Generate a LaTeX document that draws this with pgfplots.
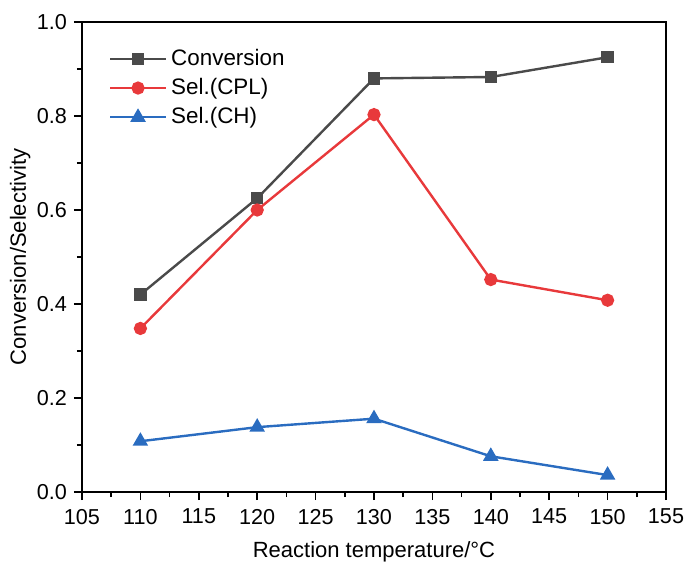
\documentclass[border=0pt]{standalone}
\usepackage{fontspec}
\setmainfont{Liberation Sans}
\usepackage{pgfplots}
\pgfplotsset{compat=1.18}
\definecolor{cgray}{HTML}{4A4A4A}
\definecolor{cred}{HTML}{E8393B}
\definecolor{cblue}{HTML}{2A6CC0}
\begin{document}
\begin{tikzpicture}
\useasboundingbox (-41pt,-36pt) rectangle (302pt,246pt);
\begin{axis}[
  at={(0pt,0pt)}, anchor=south west,
  scale only axis,
  width=292pt, height=235pt,
  xmin=105, xmax=155, ymin=0, ymax=1.0,
  xtick={105,110,...,155},
  ytick={0,0.2,...,1.0},
  minor x tick num=1, minor y tick num=1,
  tick align=outside, tick pos=left,
  major tick length=4pt, minor tick length=2.5pt,
  every tick/.style={black, line width=0.8pt},
  axis line style={line width=1pt},
  /pgf/number format/assume math mode=true,
  yticklabel style={/pgf/number format/.cd, fixed, fixed zerofill, precision=1},
  xticklabel style={/pgf/number format/.cd, fixed, precision=0, /tikz/.cd, yshift=-1pt},
  tick label style={font=\fontsize{10.8}{13}\selectfont},
  label style={font=\fontsize{11}{13}\selectfont},
  xlabel={Reaction temperature/°C},
  ylabel={Conversion/Selectivity},
  xlabel style={at={(axis description cs:0.5,-0.128)}, anchor=center},
  ylabel style={at={(axis description cs:-0.106,0.5)}, anchor=center},
  legend style={at={(0.035,0.96)}, anchor=north west, draw=none, fill=none,
    font=\fontsize{11.2}{13}\selectfont, row sep=1pt},
  legend cell align=left,
  legend image code/.code={\draw[mark repeat=2,mark phase=2] plot coordinates {(0pt,0pt)(14pt,0pt)(28pt,0pt)};},
  every axis plot/.append style={line width=1.2pt},
  clip=false,
]
\addplot[color=cgray, mark=square*, mark size=2.5pt, mark options={solid}] coordinates {
  (110,0.420) (120,0.625) (130,0.880) (140,0.883) (150,0.925)};
\addlegendentry{Conversion}
\addplot[color=cred, mark=*, mark size=2.7pt] coordinates {
  (110,0.348) (120,0.600) (130,0.803) (140,0.452) (150,0.408)};
\addlegendentry{Sel.(CPL)}
\addplot[color=cblue, mark=triangle*, mark size=3.3pt] coordinates {
  (110,0.108) (120,0.138) (130,0.156) (140,0.076) (150,0.036)};
\addlegendentry{Sel.(CH)}
\end{axis}
\end{tikzpicture}
\end{document}
